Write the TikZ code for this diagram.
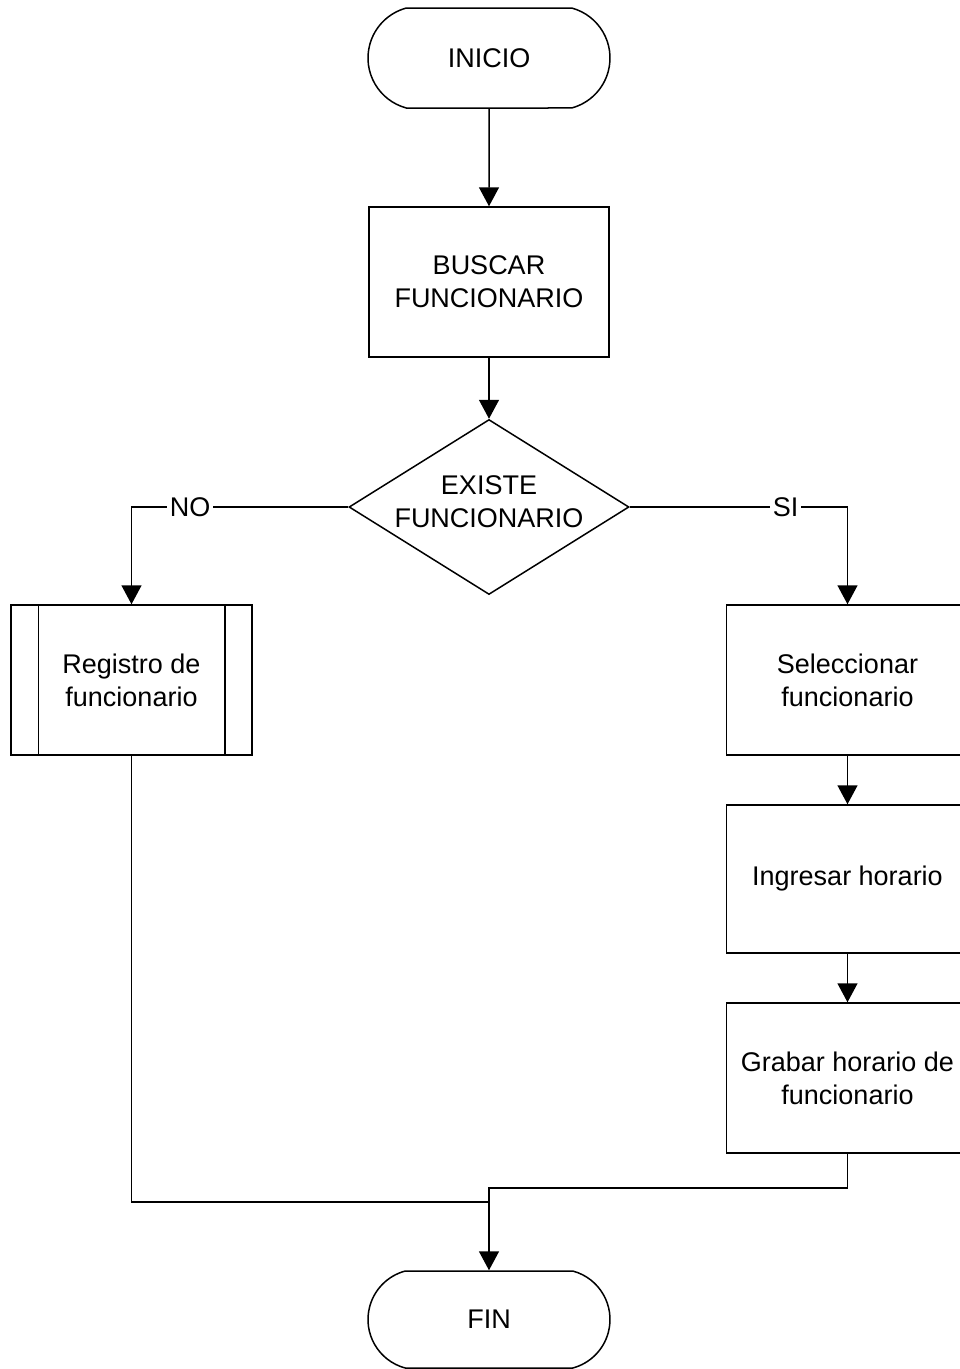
\documentclass[tikz,border=0pt]{standalone}
\usepackage{fontspec}
\setmainfont{Liberation Sans}
\usetikzlibrary{shapes.geometric,shapes.misc,arrows.meta,calc}
\begin{document}
\begin{tikzpicture}[x=1pt,y=-1pt,
  every node/.style={font=\fontsize{27}{33}\selectfont, align=center, inner sep=0pt},
  terminal/.style={draw, line width=1.5pt, rounded rectangle, rounded rectangle arc length=150,
                   minimum width=242pt, minimum height=100pt},
  process/.style={draw, line width=1.5pt, rectangle, minimum width=241pt, minimum height=150pt},
  decision/.style={draw, line width=1.5pt, diamond, aspect=1.6, minimum width=280pt, minimum height=175pt},
  arr/.style={-{Triangle[width=20pt,length=19pt]}, line width=1.5pt},
  conn/.style={line width=1.5pt},
  lbl/.style={fill=white, inner xsep=2.5pt, inner ysep=1pt}]
  \useasboundingbox (0,0) rectangle (960,1369);
  \clip (0,0) rectangle (960,1369);
  \fill[white] (0,0) rectangle (960,1369);

  % main column
  \node[terminal] (ini) at (489,58) {INICIO};
  \node[process, minimum width=240pt] (bus) at (489,282) {BUSCAR\\FUNCIONARIO};
  \node[decision] (dec) at (489,507) {};
  \node (dectxt) at (489,502) {EXISTE\\FUNCIONARIO};

  % left branch: predefined process
  \node[process] (reg) at (131.5,680) {Registro de\\funcionario};
  \draw[conn] ($(reg.north west)+(28,0)$) -- ($(reg.south west)+(28,0)$);
  \draw[conn] ($(reg.north east)+(-28,0)$) -- ($(reg.south east)+(-28,0)$);

  % right branch
  \node[process, minimum width=242pt] (sel) at (847.5,680) {Seleccionar\\funcionario};
  \node[process, minimum width=242pt, minimum height=148pt] (ing) at (847.5,879) {Ingresar horario};
  \node[process, minimum width=242pt] (grab) at (847.5,1078) {Grabar horario de\\funcionario};

  % end
  \node[terminal, minimum height=97pt] (fin) at (489,1319.5) {FIN};

  % merge points
  \coordinate (m2) at (489,1188);
  \coordinate (m1) at (489,1202);

  % connectors
  \draw[arr] (ini) -- (bus);
  \draw[arr] (bus) -- (dec);
  \draw[arr] (dec.west) -- node[lbl, pos=0.73] {NO} (dec.west -| reg.north) -- (reg.north);
  \draw[arr] (dec.east) -- node[lbl, pos=0.716] {SI} (dec.east -| sel.north) -- (sel.north);
  \draw[arr] (sel) -- (ing);
  \draw[arr] (ing) -- (grab);
  \draw[conn] (reg.south) |- (m1);
  \draw[arr] (grab.south) |- (m2) -- (fin.north);
\end{tikzpicture}
\end{document}
